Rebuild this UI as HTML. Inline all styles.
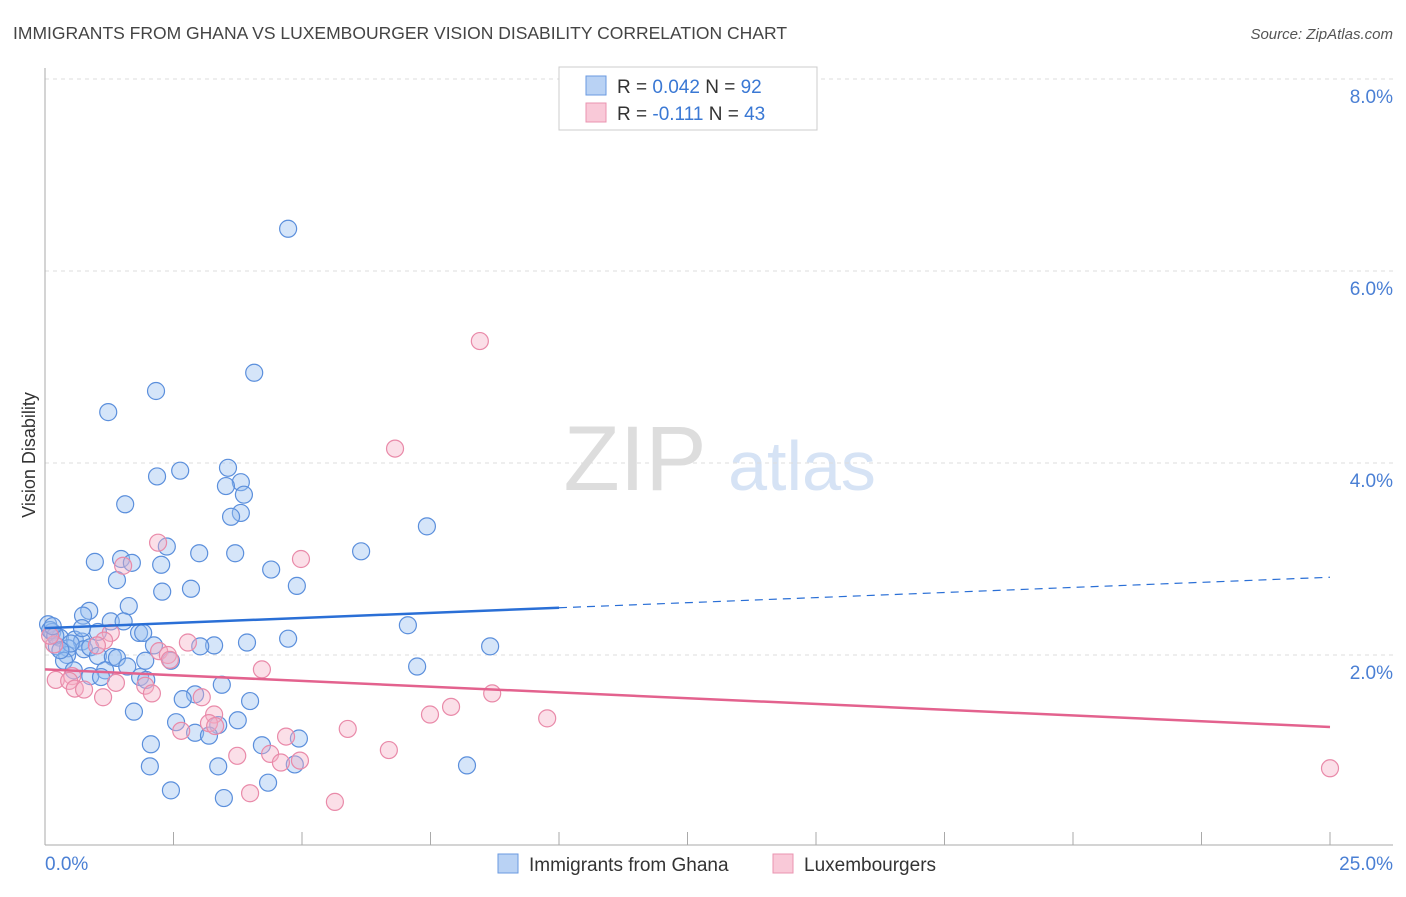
<!DOCTYPE html>
<html><head><meta charset="utf-8"><style>
body{margin:0;background:#fff;font-family:"Liberation Sans",sans-serif}
svg text{font-family:"Liberation Sans",sans-serif}
</style></head><body>
<svg id="chart" width="1406" height="892" xmlns="http://www.w3.org/2000/svg">
<text x="13" y="39" font-size="17.5" fill="#444">IMMIGRANTS FROM GHANA VS LUXEMBOURGER VISION DISABILITY CORRELATION CHART</text>
<text x="1393" y="39" font-size="15" fill="#555" font-style="italic" text-anchor="end">Source: ZipAtlas.com</text>
<g>
<text x="635" y="490" font-size="92" fill="#ddd" text-anchor="middle" font-family="Liberation Serif, serif">ZIP</text>
<text x="802" y="490" font-size="70" fill="#d6e3f5" text-anchor="middle">atlas</text>
</g>
<g id="grid"></g>
<g id="axes"></g>
<g id="pts"></g>
<g id="trend"></g>
<text x="35" y="455" font-size="18" fill="#333" text-anchor="middle" transform="rotate(-90 35 455)">Vision Disability</text>
<g>
<rect x="559" y="67" width="258" height="63" fill="#fff" stroke="#ccc"/>
<rect x="586" y="76" width="20" height="19" fill="#b9d2f4" stroke="#6a9ae0"/>
<rect x="586" y="103" width="20" height="19" fill="#f9c9d8" stroke="#ea94b0"/>
<text x="617" y="93" font-size="19" fill="#333">R = <tspan fill="#3a78d4">0.042</tspan>   N = <tspan fill="#3a78d4">92</tspan></text>
<text x="617" y="120" font-size="19" fill="#333">R =  <tspan fill="#3a78d4">-0.111</tspan>   N = <tspan fill="#3a78d4">43</tspan></text>
</g>
<g>
<rect x="498" y="854" width="20" height="19" fill="#b9d2f4" stroke="#6a9ae0"/>
<text x="529" y="871" font-size="19" fill="#333">Immigrants from Ghana</text>
<rect x="773" y="854" width="20" height="19" fill="#f9c9d8" stroke="#ea94b0"/>
<text x="804" y="871" font-size="19" fill="#333">Luxembourgers</text>
</g>
</svg>
<script>
const xTicks=[0,2.5,5,7.5,10,12.5,15,17.5,20,22.5,25];
const yTicks=[2,4,6,8];
const yTickLabels=["2.0%","4.0%","6.0%","8.0%"];
const xEndLabels=["0.0%","25.0%"];
const ghanaX=[4.73,4.07,2.16,1.23,3.56,2.63,2.18,3.81,3.52,3.87,1.56,3.81,3.62,7.43,2.37,6.15,3.0,3.70,1.48,0.97,1.69,2.26,4.40,1.40,4.90,2.84,2.28,1.63,0.86,0.74,1.28,1.53,7.06,0.06,1.83,1.91,0.14,1.03,0.29,0.58,0.72,4.73,3.93,8.66,3.29,3.02,2.12,0.23,0.45,0.76,0.88,0.43,1.03,1.32,1.40,0.37,1.95,2.45,7.24,1.60,0.56,1.17,0.88,1.09,1.85,1.97,3.44,2.92,2.68,3.99,1.73,2.55,3.75,3.37,2.92,3.19,4.94,2.06,4.22,4.86,3.37,2.04,8.21,4.34,2.45,3.48,0.72,0.1,0.2,0.5,0.3,0.15];
const ghanaY=[6.44,4.94,4.75,4.53,3.95,3.92,3.86,3.80,3.76,3.67,3.57,3.48,3.44,3.34,3.13,3.08,3.06,3.06,3.0,2.97,2.96,2.94,2.89,2.78,2.72,2.69,2.66,2.51,2.46,2.41,2.35,2.35,2.31,2.32,2.23,2.23,2.24,2.24,2.18,2.16,2.14,2.17,2.13,2.09,2.10,2.09,2.10,2.09,2.07,2.06,2.08,2.0,1.99,1.98,1.97,1.94,1.94,1.94,1.88,1.88,1.84,1.84,1.78,1.77,1.77,1.74,1.69,1.59,1.54,1.52,1.41,1.30,1.32,1.27,1.19,1.16,1.13,1.07,1.06,0.86,0.84,0.84,0.85,0.67,0.59,0.51,2.28,2.26,2.2,2.12,2.05,2.3];
const luxX=[8.46,6.81,2.20,4.98,1.52,1.28,1.15,2.78,0.18,1.01,2.22,2.39,2.43,4.22,0.53,0.21,0.47,1.38,1.95,0.58,0.76,2.08,8.70,1.13,3.05,7.90,3.29,7.49,9.77,3.19,3.31,2.65,5.89,4.69,3.74,6.69,4.38,4.59,4.96,3.99,5.64,25.0,0.1];
const luxY=[5.27,4.15,3.17,3.0,2.93,2.23,2.15,2.13,2.11,2.10,2.04,2.0,1.95,1.85,1.78,1.74,1.73,1.71,1.68,1.65,1.64,1.60,1.60,1.56,1.56,1.46,1.38,1.38,1.34,1.29,1.26,1.21,1.23,1.15,0.95,1.01,0.97,0.88,0.90,0.56,0.47,0.82,2.2];
const ghanaTrend=[2.28,2.81]; const ghanaSolidEnd=10;
const luxTrend=[1.85,1.25];
const X=v=>45+v*51.4, Y=v=>847-v*96;
const NS="http://www.w3.org/2000/svg";
function mk(tag,attrs,parent){const e=document.createElementNS(NS,tag);for(const k in attrs)e.setAttribute(k,attrs[k]);parent.appendChild(e);return e;}
const grid=document.getElementById('grid'),axes=document.getElementById('axes'),pts=document.getElementById('pts'),tr=document.getElementById('trend');
mk('line',{x1:45,y1:Y(8),x2:1393,y2:Y(8),stroke:'#ddd','stroke-dasharray':'4,4'},grid);
yTicks.forEach((t,i)=>{
 const l=mk('line',{x1:45,y1:Y(t),x2:1393,y2:Y(t),stroke:'#ddd','stroke-dasharray':'4,4'},grid);
 
 
 const tx=mk('text',{x:1393,y:Y(t)+24,'font-size':19,fill:'#4a7fd4','text-anchor':'end'},axes);
 tx.textContent=yTickLabels[i];
 
 
});
mk('line',{x1:45,y1:68,x2:45,y2:845,stroke:'#aaa'},axes);
mk('line',{x1:45,y1:845,x2:1393,y2:845,stroke:'#aaa'},axes);
xTicks.forEach(t=>{const l=mk('line',{x1:X(t),y1:832,x2:X(t),y2:845,stroke:'#aaa'},axes);
 
 });
const a=mk('text',{x:45,y:870,'font-size':19,fill:'#4a7fd4'},axes);a.textContent=xEndLabels[0];


const b=mk('text',{x:1393,y:870,'font-size':19,fill:'#4a7fd4','text-anchor':'end'},axes);b.textContent=xEndLabels[1];


ghanaX.forEach((x,i)=>{const c=mk('circle',{cx:X(x),cy:Y(ghanaY[i]),r:8.5,fill:'rgba(150,190,240,0.4)',stroke:'#5b8fdc','stroke-width':1.2},pts);
 
 });
luxX.forEach((x,i)=>{const c=mk('circle',{cx:X(x),cy:Y(luxY[i]),r:8.5,fill:'rgba(246,175,198,0.4)',stroke:'#e98aa9','stroke-width':1.2},pts);
 
 });
const gy=x=>ghanaTrend[0]+(ghanaTrend[1]-ghanaTrend[0])*x/25;
const l1=mk('line',{x1:X(0),y1:Y(gy(0)),x2:X(ghanaSolidEnd),y2:Y(gy(ghanaSolidEnd)),stroke:'#2a6fd6','stroke-width':2.5},tr);


const l2=mk('line',{x1:X(ghanaSolidEnd),y1:Y(gy(ghanaSolidEnd)),x2:X(25),y2:Y(gy(25)),stroke:'#2a6fd6','stroke-width':1.2,'stroke-dasharray':'8,6'},tr);


const l3=mk('line',{x1:X(0),y1:Y(luxTrend[0]),x2:X(25),y2:Y(luxTrend[1]),stroke:'#e3628e','stroke-width':2.5},tr);


</script>
</body></html>
